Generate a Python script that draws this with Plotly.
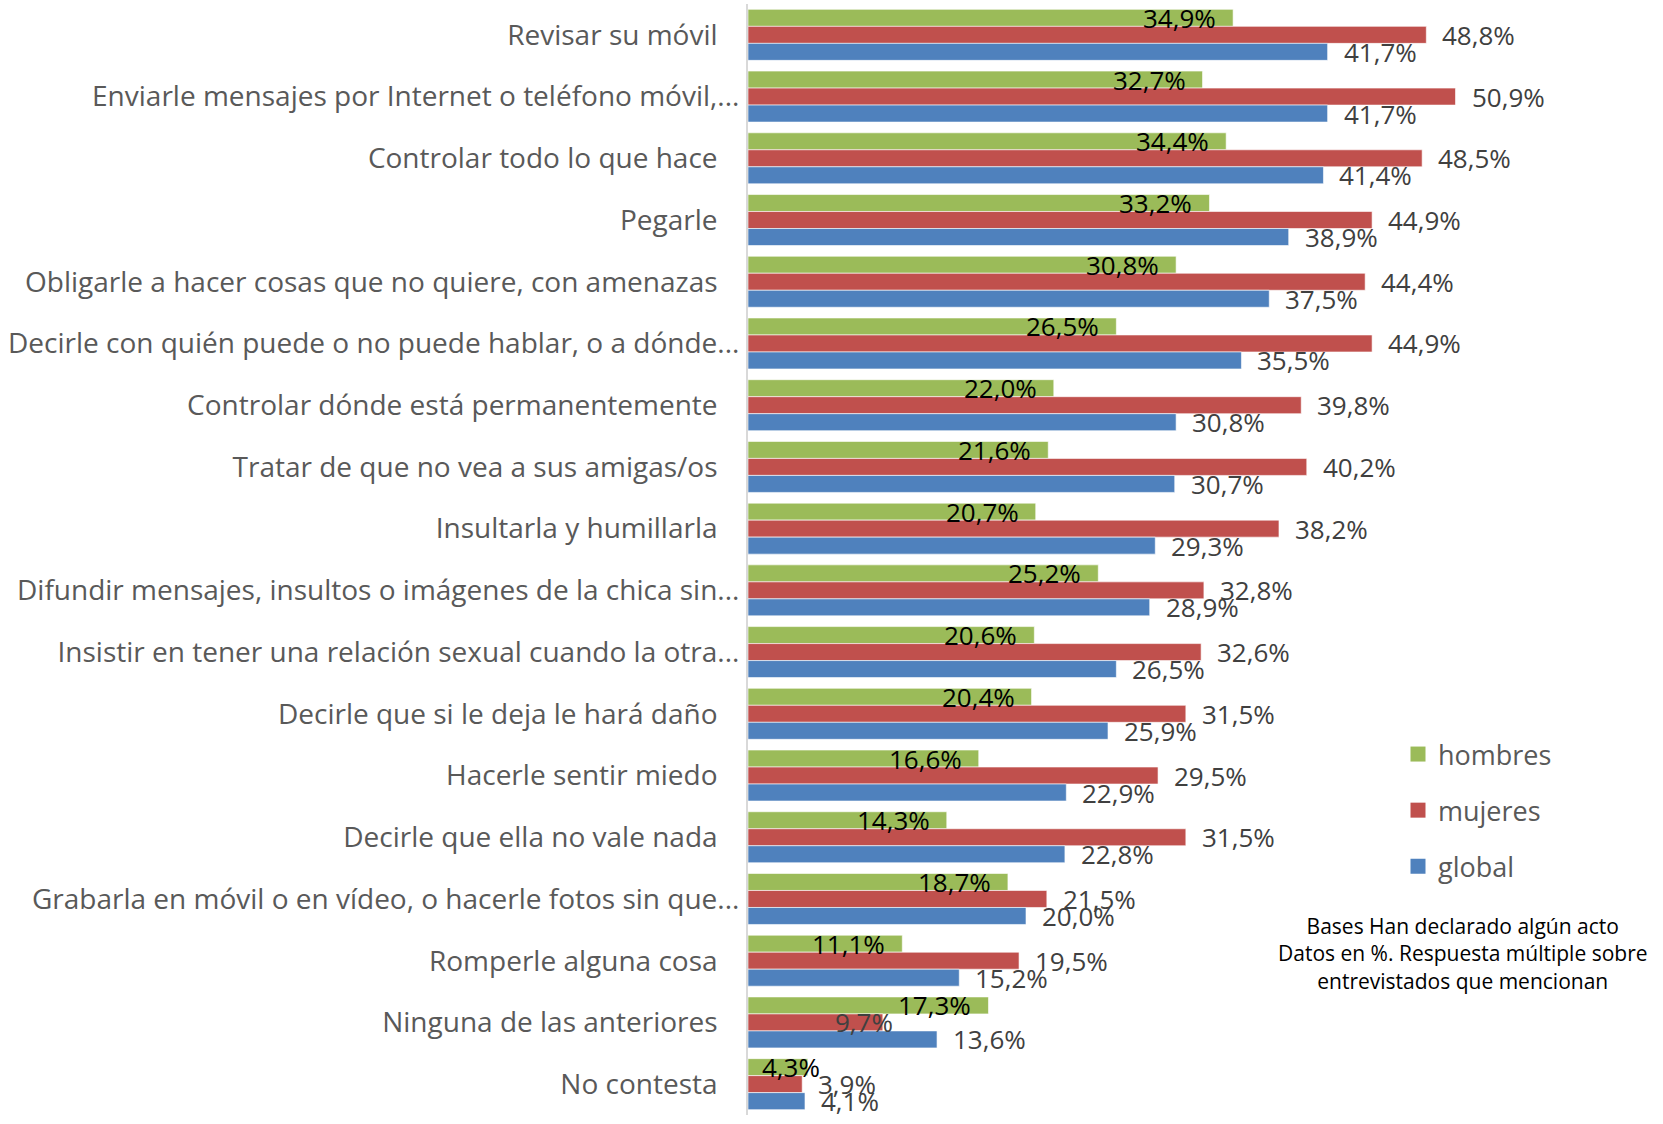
import plotly.graph_objects as go

# Survey answers: acts considered gender violence, by group (%)
categorias = [
    "Revisar su móvil",
    "Enviarle mensajes por Internet o teléfono móvil,...",
    "Controlar todo lo que hace",
    "Pegarle",
    "Obligarle a hacer cosas que no quiere, con amenazas",
    "Decirle con quién puede o no puede hablar, o a dónde...",
    "Controlar dónde está permanentemente",
    "Tratar de que no vea a sus amigas/os",
    "Insultarla y humillarla",
    "Difundir mensajes, insultos o imágenes de la chica sin...",
    "Insistir en tener una relación sexual cuando la otra...",
    "Decirle que si le deja le hará daño",
    "Hacerle sentir miedo",
    "Decirle que ella no vale nada",
    "Grabarla en móvil o en vídeo, o hacerle fotos sin que...",
    "Romperle alguna cosa",
    "Ninguna de las anteriores",
    "No contesta",
]
hombres = [34.9, 32.7, 34.4, 33.2, 30.8, 26.5, 22.0, 21.6, 20.7, 25.2,
           20.6, 20.4, 16.6, 14.3, 18.7, 11.1, 17.3, 4.3]
mujeres = [48.8, 50.9, 48.5, 44.9, 44.4, 44.9, 39.8, 40.2, 38.2, 32.8,
           32.6, 31.5, 29.5, 31.5, 21.5, 19.5, 9.7, 3.9]
global_ = [41.7, 41.7, 41.4, 38.9, 37.5, 35.5, 30.8, 30.7, 29.3, 28.9,
           26.5, 25.9, 22.9, 22.8, 20.0, 15.2, 13.6, 4.1]
nota = ["Bases Han declarado algún acto",
        "Datos en %. Respuesta múltiple sobre",
        "entrevistados que mencionan"]

FONT = "Open Sans"
W, H = 1663, 1124
ML, MR, MT, MB = 748, 81, 4, 9
PW, PH = W - ML - MR, H - MT - MB

series = [("hombres", hombres, "#9BBB59"),
          ("mujeres", mujeres, "#C0504D"),
          ("global", global_, "#4F81BD")]

fig = go.Figure()
for name, vals, color in series:
    fig.add_trace(go.Bar(
        name=name, y=categorias, x=vals, orientation="h",
        marker=dict(color=color, line=dict(color="white", width=0.6)),
        showlegend=False, hoverinfo="skip",
    ))
# square legend keys
for name, vals, color in series:
    fig.add_trace(go.Scatter(
        name=name, x=[None], y=[None], mode="markers",
        marker=dict(symbol="square", size=15, color=color),
        legendgroup=name, showlegend=True, hoverinfo="skip",
    ))

def fmt(v):
    return f"{v:.1f}".replace(".", ",") + "%"

# data labels: hombres inside end (black), others outside end (grey)
BAR_PX = 17
LBL = 26
annotations = []
for k, cat in enumerate(categorias):
    v = hombres[k]
    if v < 6:
        a = dict(x=v / 2, y=cat, text=fmt(v), xanchor="center",
                 yshift=BAR_PX, xshift=13)
    else:
        a = dict(x=v, y=cat, text=fmt(v), xanchor="right",
                 yshift=BAR_PX, xshift=-15)
    a["font"] = dict(family=FONT, size=LBL, color="#000000")
    annotations.append(a)

    v = mujeres[k]
    if v < hombres[k] * 0.6:
        # short bar squeezed under the label above: sits over the bar end
        a = dict(x=v, y=cat, text=fmt(v), xanchor="right", xshift=12)
    else:
        a = dict(x=v, y=cat, text=fmt(v), xanchor="left", xshift=14)
    a["font"] = dict(family=FONT, size=LBL, color="#404040")
    annotations.append(a)

    annotations.append(dict(x=global_[k], y=cat, text=fmt(global_[k]),
                            xanchor="left", yshift=-BAR_PX, xshift=14,
                            font=dict(family=FONT, size=LBL, color="#404040")))
for a in annotations:
    a.update(showarrow=False, xref="x", yref="y")

annotations.append(dict(
    text="<br>".join(nota), xref="paper", yref="paper",
    x=(1463 - ML) / PW, y=(H - MB - 953) / PH, xanchor="center",
    yanchor="middle", showarrow=False, align="center",
    font=dict(family=FONT, size=21, color="#000000"),
))

# truncated names (ending in "...") run a little further right than the rest
PAD = "\u00a0\u00a0\u00a0"
ticktext = [c if c.endswith("...") else c + PAD for c in categorias]

fig.update_layout(
    width=W, height=H,
    margin=dict(l=ML, r=MR, t=MT, b=MB, autoexpand=False),
    paper_bgcolor="white", plot_bgcolor="white",
    barmode="group", bargap=0.174, bargroupgap=0,
    font=dict(family=FONT, color="#595959"),
    xaxis=dict(range=[0, 60], visible=False),
    yaxis=dict(range=[len(categorias) - 0.5, -0.5], showline=True,
               linecolor="#D9D9D9", linewidth=2, ticks="",
               ticklabelstandoff=1, tickmode="array",
               tickvals=categorias, ticktext=ticktext,
               tickfont=dict(family=FONT, size=28, color="#595959")),
    legend=dict(x=(1398 - ML) / PW, y=(H - MB - 730) / PH,
                xanchor="left", yanchor="top",
                font=dict(family=FONT, size=27, color="#595959"),
                tracegroupgap=18, itemwidth=30, itemsizing="trace",
                bgcolor="rgba(0,0,0,0)"),
    annotations=annotations,
    showlegend=True,
)

fig.write_html("out.html")
